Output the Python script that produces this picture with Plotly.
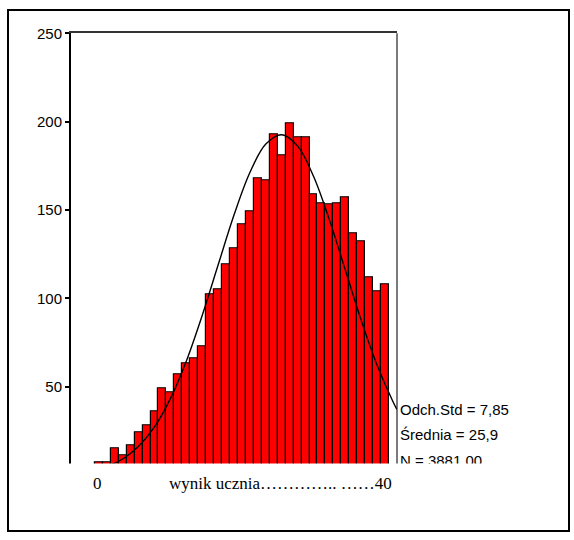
import plotly.graph_objects as go

# ---- data ----
score_bins = list(range(3, 40))
counts = [7, 7, 15, 11, 17, 24, 28, 36, 49, 47, 57, 63, 66, 73, 102, 105,
          119, 128, 142, 149, 168, 167, 193, 181, 199, 191, 191, 159, 154,
          153, 154, 157, 137, 132, 112, 104, 108]
curve_x = [0, 2, 4, 6, 8, 10, 12, 14, 16, 18, 20, 22, 24, 26, 28, 30, 32,
           34, 36, 38, 40, 40.5]
curve_y = [1.1, 2.3, 4.7, 9.0, 16.2, 27.2, 43.2, 64.4, 90.3, 118.8, 147.1,
           171.2, 187.3, 192.6, 186.2, 169.1, 144.4, 116.0, 87.5, 62.1, 41.4,
           37.0]
y_ticks = [0, 50, 100, 150, 200, 250]
stats_labels = ["Odch.Std = 7,85", "\u015arednia = 25,9", "N = 3881,00"]
x_start_label = "0"
x_caption = "wynik ucznia" + "\u2026" * 4 + ".. " + "\u2026" * 2 + "40"

# ---- page geometry ----
W, H = 574, 540
# the photographed page is drawn slightly squeezed vertically; target
# positions below are in photo pixels and converted to page pixels
SY, CY = 0.968, 8.35


def pg(target_y):
    return min(max((target_y - CY) / SY, 1.0), H - 1.0)


def fx(px):
    return px / W


def fy(target_y):
    return 1 - pg(target_y) / H


SANS = "Liberation Sans, Arial, sans-serif"
SERIF = "Liberation Serif, Times New Roman, serif"

fig = go.Figure()
fig.add_trace(go.Bar(
    x=score_bins, y=counts, width=1,
    marker=dict(color="#FF0000", line=dict(color="black", width=1.2)),
    hoverinfo="skip",
))
fig.add_trace(go.Scatter(
    x=curve_x, y=curve_y, mode="lines",
    line=dict(color="black", width=1.4, shape="spline"),
    hoverinfo="skip",
))
fig.add_trace(go.Scatter(
    x=[400, 400, 400], y=[pg(410), pg(435.5), pg(461)], text=stats_labels,
    mode="text", textposition="middle right",
    textfont=dict(family=SANS, size=15, color="black"),
    xaxis="x2", yaxis="y2", cliponaxis=False, hoverinfo="skip",
))

fig.update_layout(
    width=W, height=H,
    margin=dict(l=0, r=0, t=0, b=0, pad=0),
    paper_bgcolor="white", plot_bgcolor="rgba(0,0,0,0)",
    showlegend=False, bargap=0,
    xaxis=dict(
        domain=[fx(71), fx(397)], range=[-0.5, 40.5],
        showgrid=False, zeroline=False, showticklabels=False, ticks="",
        showline=True, mirror=True, linecolor="#333", linewidth=1.5,
    ),
    yaxis=dict(
        domain=[fy(474), fy(32.7)], range=[0, 250],
        tickvals=y_ticks, ticks="outside", ticklen=4, tickwidth=2,
        tickcolor="black", showline=True, linecolor="black", linewidth=2,
        showgrid=False, zeroline=False,
        tickfont=dict(family=SANS, size=15, color="black"),
    ),
    xaxis2=dict(domain=[0, 1], range=[0, W], anchor="y2", visible=False),
    yaxis2=dict(domain=[0, 1], range=[H, 0], anchor="x2", visible=False),
    shapes=[
        dict(type="rect", xref="paper", yref="paper",
             x0=fx(8), x1=fx(569), y0=fy(539), y1=fy(5.5),
             line=dict(color="black", width=2)),
        dict(type="line", xref="paper", yref="paper",
             x0=fx(397), x1=fx(397), y0=fy(474), y1=fy(32.7),
             line=dict(color="#222", width=1.2)),
        dict(type="rect", xref="paper", yref="paper", layer="above",
             x0=fx(25), x1=fx(565), y0=fy(482), y1=fy(462.5),
             fillcolor="white", line=dict(width=0)),
    ],
    annotations=[
        dict(text=x_start_label, xref="paper", yref="paper",
             x=fx(97.7), y=fy(482.5), xanchor="center", yanchor="middle",
             showarrow=False, font=dict(family=SERIF, size=17, color="black")),
        dict(text=x_caption, xref="paper", yref="paper",
             x=fx(167), y=fy(482.5), xanchor="left", yanchor="middle",
             showarrow=False, font=dict(family=SERIF, size=17, color="black")),
    ],
)

page_css = (
    "var s=document.createElement('style');"
    "s.textContent='html,body{margin:0!important;padding:0!important;"
    "overflow:hidden;}"
    ".plotly-graph-div{position:fixed!important;top:0;left:0;}';"
    "document.head.appendChild(s);"
)

fig.write_html(
    "out.html",
    config={"displayModeBar": False},
    post_script=page_css,
)
